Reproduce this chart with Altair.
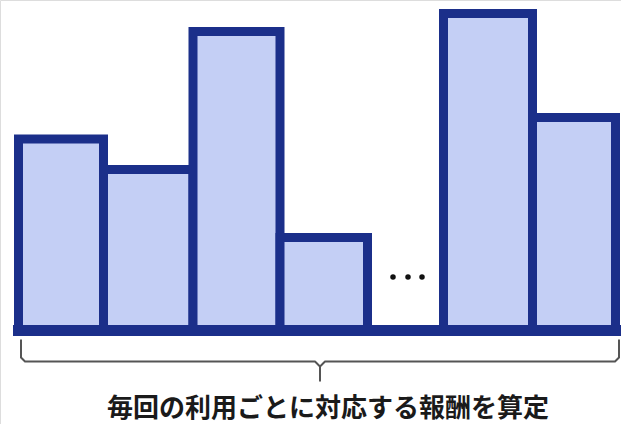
import altair as alt
import pandas as pd

# Per-use reward bars: start/end of each usage and the reward amount
usage_start = [18.5, 103.5, 193, 280, 443.5, 532.5]
usage_end = [103.5, 193, 280, 367.5, 532.5, 615.5]
reward = [191.5, 161, 299, 93, 317, 213]

# Ellipsis between the 4th and 5th usage
dots_x = [393, 408, 422]
dots_y = [53.5, 53.5, 53.5]

# Curly brace beneath the timeline (two halves meeting at the tip)
brace_side = ["L"] * 6 + ["R"] * 5
brace_step = [0, 1, 2, 3, 4, 5, 0, 1, 2, 3, 4]
brace_x = [21, 21, 25, 315, 320, 320, 619, 619, 615, 325, 320]
brace_y = [-9, -27, -31, -31, -36, -51, -9, -27, -31, -31, -36]

caption = "毎回の利用ごとに対応する報酬を算定"
caption_x = [328]
caption_y = [-78.5]

NAVY = "#1b2f8a"
FILL = "#c4cff5"

bars_df = pd.DataFrame({"start": usage_start, "end": usage_end, "reward": reward})
dots_df = pd.DataFrame({"x": dots_x, "y": dots_y})
brace_df = pd.DataFrame({"side": brace_side, "step": brace_step, "x": brace_x, "y": brace_y})
caption_df = pd.DataFrame({"x": caption_x, "y": caption_y, "t": [caption]})
base_df = pd.DataFrame({"x": [min(usage_start)], "x2": [max(usage_end)], "y": [0]})

xs = alt.Scale(domain=[0, 621], nice=False, zero=False)
ys = alt.Scale(domain=[-93.5, 330.5], nice=False, zero=False)

bars = alt.Chart(bars_df).mark_rect(
    fill=FILL, stroke=NAVY, strokeWidth=9, strokeJoin="miter"
).encode(
    x=alt.X("start:Q", scale=xs, axis=None),
    x2="end:Q",
    y=alt.Y("reward:Q", scale=ys, axis=None),
    y2=alt.datum(0),
)

baseline = alt.Chart(base_df).mark_rule(
    color=NAVY, strokeWidth=11, strokeCap="square"
).encode(
    x=alt.X("x:Q", scale=xs, axis=None),
    x2="x2:Q",
    y=alt.Y("y:Q", scale=ys, axis=None),
)

dots = alt.Chart(dots_df).mark_circle(size=30, color="#111111", opacity=1).encode(
    x=alt.X("x:Q", scale=xs, axis=None),
    y=alt.Y("y:Q", scale=ys, axis=None),
)

brace = alt.Chart(brace_df).mark_line(
    color="#555555", strokeWidth=2, strokeJoin="round"
).encode(
    x=alt.X("x:Q", scale=xs, axis=None),
    y=alt.Y("y:Q", scale=ys, axis=None),
    detail="side:N",
    order="step:Q",
)

text = alt.Chart(caption_df).mark_text(
    font="Noto Sans CJK JP", fontSize=26, fontWeight="bold",
    color="#1a1a1a", align="center", baseline="middle",
).encode(
    x=alt.X("x:Q", scale=xs, axis=None),
    y=alt.Y("y:Q", scale=ys, axis=None),
    text="t:N",
)

chart = alt.layer(bars, baseline, dots, brace, text).properties(
    width=621, height=424, padding=0,
    autosize=alt.AutoSizeParams(type="none"),
).configure_view(stroke=None).configure(background="white")

chart.save("out.html", embed_options={"renderer": "svg", "actions": False})
